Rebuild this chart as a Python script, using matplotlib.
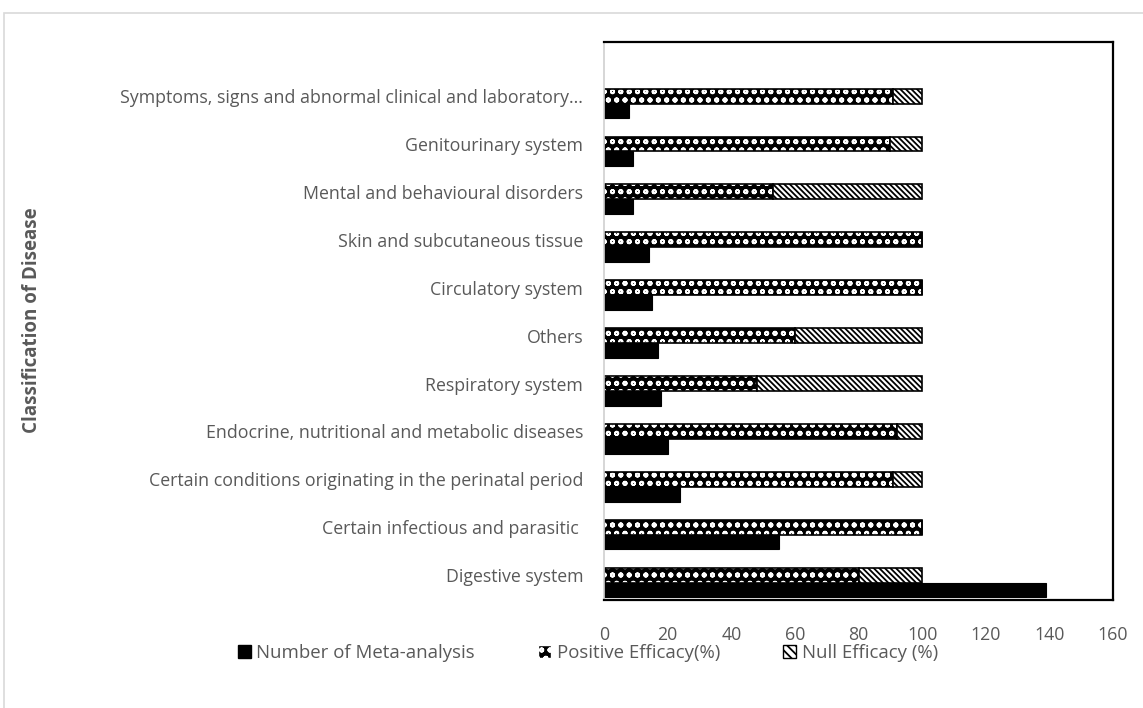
import matplotlib
matplotlib.use("Agg")
import matplotlib.pyplot as plt
from matplotlib.patches import Rectangle
import numpy as np

categories = [
    "Digestive system",
    "Certain infectious and parasitic ",
    "Certain conditions originating in the perinatal period",
    "Endocrine, nutritional and metabolic diseases",
    "Respiratory system",
    "Others",
    "Circulatory system",
    "Skin and subcutaneous tissue",
    "Mental and behavioural disorders",
    "Genitourinary system",
    "Symptoms, signs and abnormal clinical and laboratory...",
]
num_meta = [139, 55, 24, 20, 18, 17, 15, 14, 9, 9, 8]
positive_pct = [80, 100, 91, 92, 48, 60, 100, 100, 53, 90, 91]
null_pct = [20, 0, 9, 8, 52, 40, 0, 0, 47, 10, 9]
xticks = [0, 20, 40, 60, 80, 100, 120, 140, 160]

plt.rcParams["font.family"] = ["Open Sans", "DejaVu Sans"]
plt.rcParams["hatch.linewidth"] = 1.3

gray = "#595959"
fig = plt.figure(figsize=(11.43, 7.08), dpi=100)
fig.patches.append(Rectangle((4 / 1143, -0.01), 1.2, 1 - 13 / 708 + 0.01,
                             transform=fig.transFigure, fill=False,
                             edgecolor="#d9d9d9", linewidth=1.2))
ax = fig.add_axes([604 / 1143, 1 - 600 / 708, (1113 - 604) / 1143, (600 - 42) / 708])

y = np.arange(len(categories))
h = 0.31
# number of meta-analysis bars (below)
ax.barh(y - h, num_meta, height=h, color="black", edgecolor="black", linewidth=0.8,
        label="Number of Meta-analysis")
# positive efficacy: black with white pattern
ax.barh(y, positive_pct, height=h, color="black", edgecolor="white", hatch="oo", linewidth=0)
ax.barh(y, positive_pct, height=h, fill=False, edgecolor="black", linewidth=1.2)
# null efficacy: white with dark diagonal hatch
ax.barh(y, null_pct, left=positive_pct, height=h, color="white", edgecolor="black",
        hatch="\\\\\\\\\\\\", linewidth=0)
ax.barh(y, null_pct, left=positive_pct, height=h, fill=False, edgecolor="black", linewidth=1.2)

ax.set_xlim(0, 160)
ax.set_ylim(-0.52, 11.13)
ax.set_xticks(xticks)
ax.set_xticklabels([str(t) for t in xticks])
ax.set_yticks(y)
ax.set_yticklabels(categories)
ax.tick_params(axis="both", length=0, labelsize=12.8, labelcolor=gray)
ax.tick_params(axis="x", pad=19)
ax.tick_params(axis="y", pad=15)
for s in ["top", "right", "bottom"]:
    ax.spines[s].set_color("black")
    ax.spines[s].set_linewidth(1.6)
ax.spines["left"].set_color("#d0d0d0")
ax.spines["left"].set_linewidth(1.2)

fig.text(32 / 1143, 1 - 320 / 708, "Classification of Disease", rotation=90,
         ha="center", va="center", fontsize=13.5, fontweight="bold", color=gray)

# legend
h1 = Rectangle((0, 0), 1, 1, facecolor="black", edgecolor="black")
h2 = Rectangle((0, 0), 1, 1, facecolor="black", edgecolor="white", hatch="oo")
h3 = Rectangle((0, 0), 1, 1, facecolor="white", edgecolor="black", hatch="\\\\\\\\")
leg = fig.legend([h1, h2, h3],
                 ["Number of Meta-analysis", "Positive Efficacy(%)", "Null Efficacy (%)"],
                 loc="center", bbox_to_anchor=(588 / 1143, 1 - 653 / 708), ncol=3,
                 frameon=False, fontsize=13.4, handlelength=0.7, handleheight=0.7,
                 handletextpad=0.3, columnspacing=3.4)
for t in leg.get_texts():
    t.set_color(gray)

fig.savefig("out.png", dpi=100)
